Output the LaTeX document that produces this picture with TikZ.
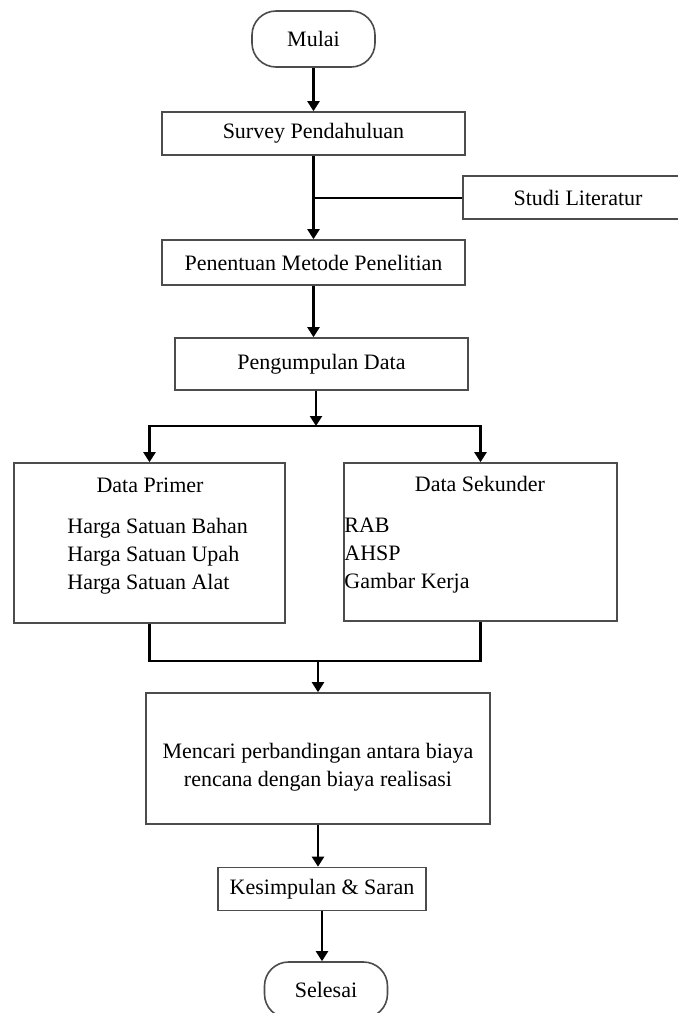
\documentclass[tikz,border=0pt]{standalone}
\usepackage{fontspec}
\setmainfont{Liberation Serif}
\usetikzlibrary{positioning,arrows.meta}

\begin{document}
\begin{tikzpicture}[x=0.5pt,y=-0.5pt, every node/.style={font=\fontsize{11}{14}\selectfont}]
  \tikzstyle{stepbox}=[rectangle, draw=black!70, line width=0.8pt, align=center, inner sep=2pt]
  \tikzstyle{termbox}=[stepbox, rounded corners=12pt, minimum width=61.5pt, minimum height=28pt]
  \tikzstyle{flow}=[line width=1.1pt, -{Triangle[length=5pt,width=6pt]}]
  \tikzstyle{link}=[line width=1.1pt]
  \useasboundingbox[fill=white] (0,0) rectangle (677,1013);
  \node[termbox] (mulai) at (313.5,39) {Mulai};
  \node[stepbox, minimum width=151.5pt, minimum height=21.5pt] (survey) at (313.5,133.5) {Survey Pendahuluan};
  \node[stepbox, minimum width=115pt, minimum height=21.5pt] (studi) at (578,197.5) {Studi Literatur};
  \node[stepbox, minimum width=151.5pt, minimum height=22.5pt] (penentuan) at (313.5,262.5) {Penentuan Metode Penelitian};
  \node[stepbox, minimum width=146.5pt, minimum height=26pt] (pengumpulan) at (321.5,364) {Pengumpulan Data};
  \node[stepbox, minimum width=135.5pt, minimum height=80pt] (primer) at (149.5,543) {};
  \node[stepbox, minimum width=136.5pt, minimum height=79pt] (sekunder) at (480.5,542) {};
  \node[stepbox, minimum width=172pt, minimum height=65.5pt] (mencari) at (318,758.5) {};
  \node[stepbox, minimum width=104pt, minimum height=21.5pt] (kesimpulan) at (322,889) {Kesimpulan \& Saran};
  \node[termbox] (selesai) at (326,990) {Selesai};
  % isi kotak data dan kotak analisis
  \node (primerjudul) at (150,485) {Data Primer};
  \node[anchor=west, align=left, inner sep=0pt] (primerisi) at (67,556) {Harga Satuan Bahan\\Harga Satuan Upah\\Harga Satuan Alat};
  \node (sekunderjudul) at (480,484) {Data Sekunder};
  \node[anchor=west, align=left, inner sep=0pt] (sekunderisi) at (344,556) {RAB\\AHSP\\Gambar Kerja};
  \node[align=center] (mencariisi) at (318,767) {Mencari perbandingan antara biaya\\rencana dengan biaya realisasi};
  \coordinate (split) at (316,426);
  \coordinate (join) at (318,661);
  \draw[flow] (mulai) -- (survey);
  \draw[flow] (survey) -- (penentuan);
  \draw[line width=1pt] (studi) -- (studi -| survey);
  \draw[flow] (penentuan.south) -- (penentuan.south |- pengumpulan.north);
  \draw[flow] (split |- pengumpulan.south) -- (split);
  \draw[flow] (split) -| (primer.north);
  \draw[flow] (split) -| (sekunder.north);
  \draw[link] (primer.south) |- (join) -| (sekunder.south);
  \draw[flow] (join) -- (mencari);
  \draw[flow] (mencari.south) -- (mencari.south |- kesimpulan.north);
  \draw[flow] (kesimpulan) -- (kesimpulan |- selesai.north);
\end{tikzpicture}
\end{document}
